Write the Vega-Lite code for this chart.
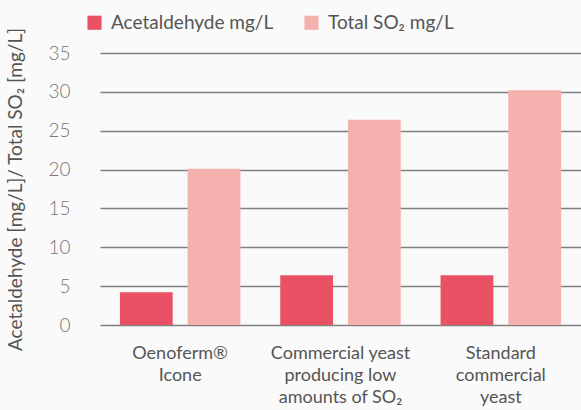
{
  "$schema": "https://vega.github.io/schema/vega-lite/v6.json",
  "width": 481,
  "height": 272,
  "autosize": "none",
  "padding": {"left": 100, "top": 53, "right": 0, "bottom": 85},
  "background": "#fafafa",
  "config": {
    "font": "Lato",
    "view": {"stroke": null},
    "axis": {"labelFont": "Lato", "titleFont": "Lato"}
  },
  "data": {
    "values": [
      {"yeast": "Oenoferm®|Icone", "series": "Acetaldehyde mg/L", "value": 4.2},
      {"yeast": "Oenoferm®|Icone", "series": "Total SO₂ mg/L", "value": 20.1},
      {"yeast": "Commercial yeast|producing low|amounts of SO₂", "series": "Acetaldehyde mg/L", "value": 6.4},
      {"yeast": "Commercial yeast|producing low|amounts of SO₂", "series": "Total SO₂ mg/L", "value": 26.4},
      {"yeast": "Standard|commercial|yeast", "series": "Acetaldehyde mg/L", "value": 6.4},
      {"yeast": "Standard|commercial|yeast", "series": "Total SO₂ mg/L", "value": 30.2}
    ]
  },
  "mark": {"type": "bar"},
  "encoding": {
    "x": {
      "field": "yeast",
      "type": "nominal",
      "sort": null,
      "scale": {"paddingInner": 0, "paddingOuter": 0},
      "axis": {
        "title": null,
        "labelAngle": 0,
        "labelExpr": "split(datum.label, '|')",
        "labelFontSize": 18,
        "labelColor": "#555555",
        "labelLineHeight": 22,
        "labelPadding": 19,
        "labelBaseline": "top",
        "ticks": false,
        "domain": false,
        "grid": false,
        "labelLimit": 300
      }
    },
    "xOffset": {
      "field": "series",
      "type": "nominal",
      "scale": {"paddingInner": 0.22, "paddingOuter": 0.294}
    },
    "y": {
      "field": "value",
      "type": "quantitative",
      "scale": {"domain": [0, 35]},
      "axis": {
        "title": "Acetaldehyde [mg/L]/ Total SO₂ [mg/L]",
        "titleFontSize": 19,
        "titleFontWeight": "normal",
        "titleColor": "#555555",
        "titlePadding": 22,
        "values": [0, 5, 10, 15, 20, 25, 30, 35],
        "labelFontSize": 19,
        "labelFontWeight": 300,
        "labelColor": "#777777",
        "labelPadding": 30,
        "ticks": false,
        "domain": false,
        "grid": true,
        "gridColor": "#808080",
        "gridWidth": 1.5
      }
    },
    "color": {
      "field": "series",
      "type": "nominal",
      "scale": {"range": ["#e95265", "#f5b1ae"]},
      "legend": {
        "title": null,
        "orient": "none",
        "direction": "horizontal",
        "legendX": -15,
        "legendY": -40,
        "symbolType": "square",
        "symbolSize": 200,
        "symbolStrokeWidth": 0,
        "symbolOpacity": 1,
        "labelFontSize": 19,
        "labelColor": "#555555",
        "labelOffset": 7,
        "columnPadding": 28,
        "labelLimit": 300
      }
    }
  }
}
